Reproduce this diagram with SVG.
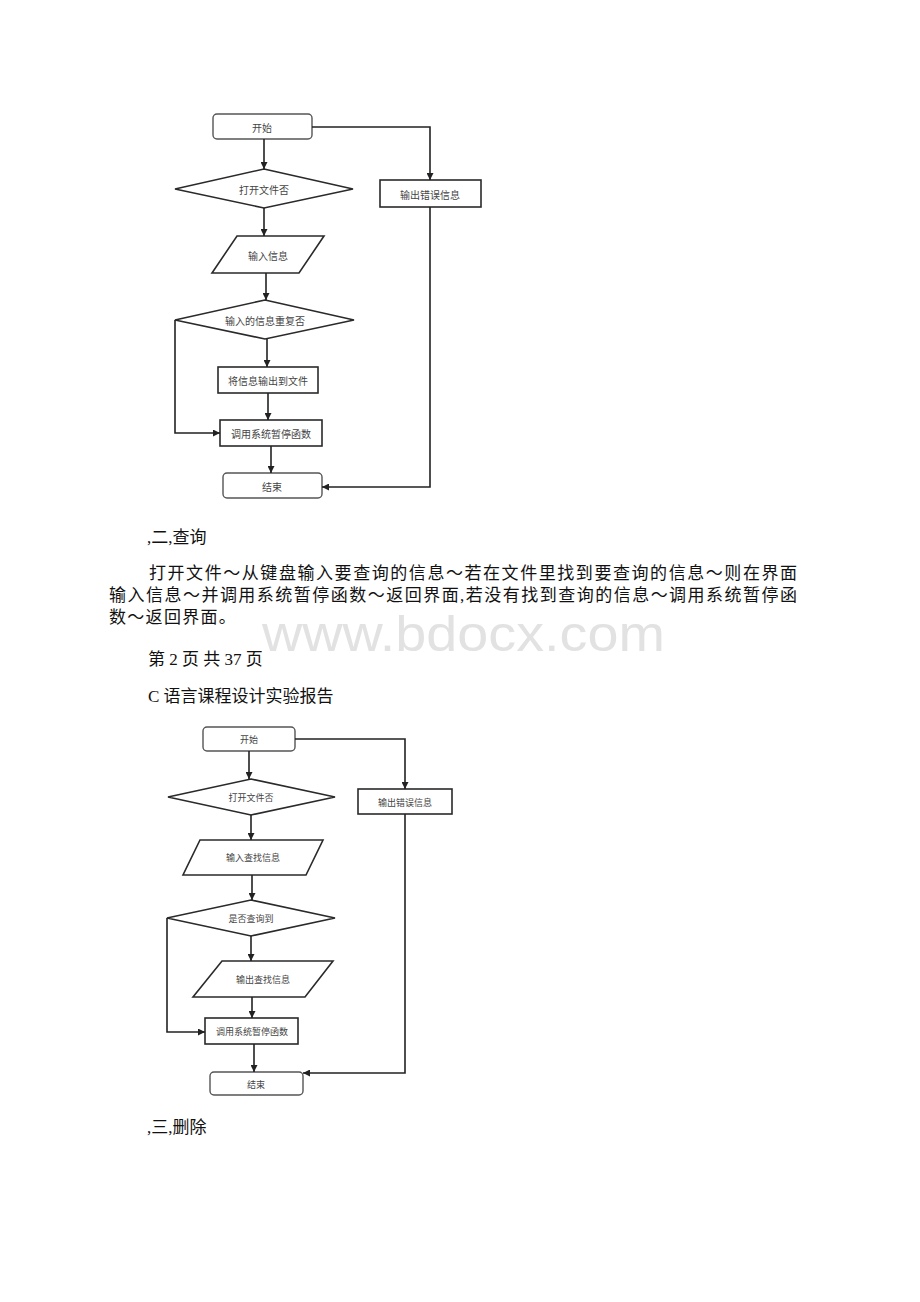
<svg xmlns="http://www.w3.org/2000/svg" width="920" height="1302" viewBox="0 0 920 1302">
<style>
.box{fill:#fff;stroke:#2a2a2a;stroke-width:1.6}
.term{fill:#fff;stroke:#555;stroke-width:1.4}
.lbl{font-family:"Noto Sans CJK SC","Noto Sans",sans-serif;font-size:10px;fill:#444;text-anchor:middle;dominant-baseline:central}
.lbl2{font-family:"Noto Sans CJK SC","Noto Sans",sans-serif;font-size:9px;fill:#444;text-anchor:middle;dominant-baseline:central}
.con{fill:none;stroke:#222;stroke-width:1.6;marker-end:url(#ah)}
.body{font-family:"Liberation Serif","Noto Sans CJK SC",serif;font-size:17px;fill:#111}
.wm{font-family:"Liberation Sans",Arial,sans-serif;font-size:50px;fill:#e2e2e2}
</style>
<defs>
<marker id="ah" viewBox="0 0 10 10" refX="10" refY="5" markerWidth="7" markerHeight="7" markerUnits="userSpaceOnUse" orient="auto">
<path d="M0,0 L10,5 L0,10 z" fill="#222"/>
</marker>
</defs>
<rect width="920" height="1302" fill="#fff"/>
<text class="wm" x="262" y="651" textLength="403" lengthAdjust="spacingAndGlyphs">www.bdocx.com</text>

<!-- Flowchart 1 -->
<g id="f1-start"><rect class="term" x="213" y="114" width="99" height="25" rx="4"/><text class="lbl" x="262" y="127">开始</text></g>
<g id="f1-open"><polygon class="box" points="264,169 353,189 264,208 175,189"/><text class="lbl" x="264" y="189">打开文件否</text></g>
<g id="f1-err"><rect class="box" x="380" y="180" width="101" height="27"/><text class="lbl" x="430" y="194">输出错误信息</text></g>
<g id="f1-input"><polygon class="box" points="237,236 324,236 299,273 212,273"/><text class="lbl" x="268" y="255">输入信息</text></g>
<g id="f1-dup"><polygon class="box" points="265,300 354,320 265,339 175,320"/><text class="lbl" x="265" y="320">输入的信息重复否</text></g>
<g id="f1-write"><rect class="box" x="218" y="367" width="100" height="26"/><text class="lbl" x="268" y="380">将信息输出到文件</text></g>
<g id="f1-pause"><rect class="box" x="220" y="420" width="102" height="26"/><text class="lbl" x="271" y="433">调用系统暂停函数</text></g>
<g id="f1-end"><rect class="term" x="223" y="473" width="99" height="25" rx="4"/><text class="lbl" x="272" y="486">结束</text></g>

<!-- Flowchart 2 -->
<g id="f2-start"><rect class="term" x="203" y="727" width="92" height="24" rx="4"/><text class="lbl2" x="249" y="739">开始</text></g>
<g id="f2-open"><polygon class="box" points="251,779 335,797 251,815 168,797"/><text class="lbl2" x="251" y="797">打开文件否</text></g>
<g id="f2-err"><rect class="box" x="358" y="789" width="94" height="25"/><text class="lbl2" x="405" y="802">输出错误信息</text></g>
<g id="f2-input"><polygon class="box" points="200,840 323,840 306,875 183,875"/><text class="lbl2" x="253" y="857">输入查找信息</text></g>
<g id="f2-found"><polygon class="box" points="251,900 335,918 251,936 167,918"/><text class="lbl2" x="251" y="918">是否查询到</text></g>
<g id="f2-output"><polygon class="box" points="222,961 333,961 305,997 193,997"/><text class="lbl2" x="263" y="979">输出查找信息</text></g>
<g id="f2-pause"><rect class="box" x="205" y="1018" width="93" height="26"/><text class="lbl2" x="252" y="1031">调用系统暂停函数</text></g>
<g id="f2-end"><rect class="term" x="210" y="1072" width="93" height="23" rx="4"/><text class="lbl2" x="256" y="1084">结束</text></g>

<g id="connectors">
<path class="con" d="M264,139 V169"/>
<path class="con" d="M312,127 H430 V180"/>
<path class="con" d="M264,208 V236"/>
<path class="con" d="M266,273 V300"/>
<path class="con" d="M267,339 V367"/>
<path class="con" d="M268,393 V420"/>
<path class="con" d="M175,320 V433 H220"/>
<path class="con" d="M271,446 V473"/>
<path class="con" d="M430,207 V487 H322"/>

<path class="con" d="M249,751 V779"/>
<path class="con" d="M295,739 H405 V789"/>
<path class="con" d="M251,815 V840"/>
<path class="con" d="M252,875 V900"/>
<path class="con" d="M251,936 V961"/>
<path class="con" d="M252,997 V1018"/>
<path class="con" d="M167,918 V1032 H205"/>
<path class="con" d="M254,1044 V1072"/>
<path class="con" d="M405,814 V1073 H303"/>
</g>

<g id="text">
<text class="body" x="147" y="543">,二,查询</text>
<text class="body" x="149" y="579" textLength="648" lengthAdjust="spacing">打开文件～从键盘输入要查询的信息～若在文件里找到要查询的信息～则在界面</text>
<text class="body" x="109" y="601" textLength="688" lengthAdjust="spacing">输入信息～并调用系统暂停函数～返回界面,若没有找到查询的信息～调用系统暂停函</text>
<text class="body" x="109" y="623" letter-spacing="1.3">数～返回界面。</text>
<text class="body" x="148" y="665">第 2 页 共 37 页</text>
<text class="body" x="148" y="702">C 语言课程设计实验报告</text>
<text class="body" x="147" y="1133">,三,删除</text>
</g>
</svg>
